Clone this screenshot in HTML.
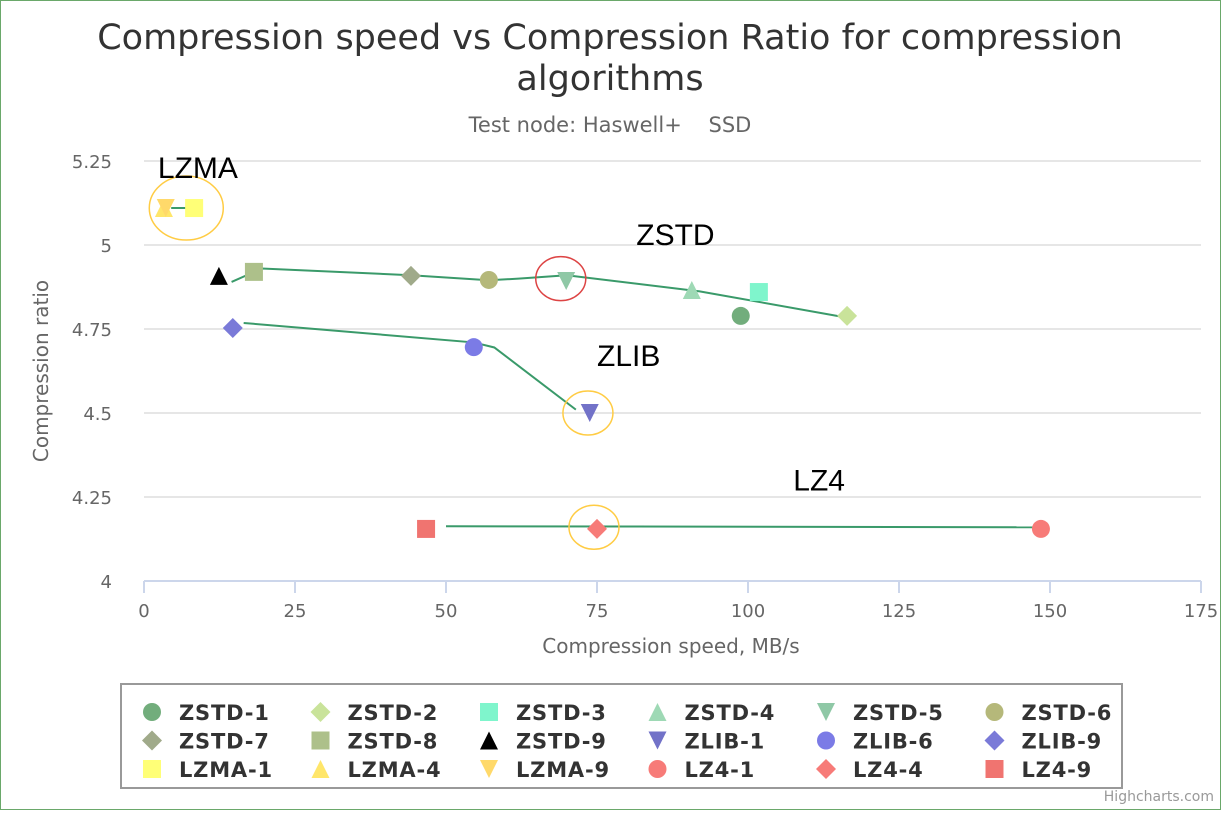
<!DOCTYPE html>
<html><head><meta charset="utf-8"><style>
body{margin:0;background:#fff;font-family:"DejaVu Sans",sans-serif}
#wrap{position:relative;width:1219px;height:808px;border:1px solid #6aa86a}
</style></head><body>
<div id="wrap">
<svg id="chart" width="1219" height="808" xmlns="http://www.w3.org/2000/svg" font-family="DejaVu Sans, sans-serif">
<text x="609" y="48" text-anchor="middle" font-size="35" fill="#333">Compression speed vs Compression Ratio for compression</text>
<text x="609" y="89" text-anchor="middle" font-size="35" fill="#333">algorithms</text>
<text x="609" y="131" text-anchor="middle" font-size="21" fill="#666">Test node: Haswell+ &#160;&#160;&#160;SSD</text>
<g id="grid"></g><g id="axes"></g><g id="lines"></g><g id="marks"></g><g id="notes"></g>
<text x="670" y="652" text-anchor="middle" font-size="20" fill="#666">Compression speed, MB/s</text>
<text transform="translate(47,370) rotate(-90)" text-anchor="middle" font-size="20" fill="#666">Compression ratio</text>
<rect x="120" y="683" width="1001" height="104" fill="none" stroke="#999" stroke-width="2"/>
<g id="legend"></g>
<text x="1213" y="800" text-anchor="end" font-size="14" fill="#999">Highcharts.com</text>
</svg></div>
<script>
const names=["ZSTD-1","ZSTD-2","ZSTD-3","ZSTD-4","ZSTD-5","ZSTD-6","ZSTD-7","ZSTD-8","ZSTD-9","ZLIB-1","ZLIB-6","ZLIB-9","LZMA-1","LZMA-4","LZMA-9","LZ4-1","LZ4-4","LZ4-9"];
const speeds=[98.8,116.4,101.8,90.7,69.9,57.1,44.2,18.2,12.4,73.8,54.6,14.7,8.3,3.3,3.6,148.5,75,46.7];
const ratios=[4.789,4.789,4.86,4.866,4.893,4.896,4.908,4.92,4.908,4.5,4.696,4.753,5.11,5.11,5.11,4.155,4.155,4.155];
const colors=["#72ad7c","#c9e39a","#7ff5cc","#9ed9b5","#8fc8a6","#b5b87a","#a0aa8a","#adc08a","#000000","#7272c8","#7b7be6","#7a7ad8","#ffff77","#ffe66a","#ffd96a","#f77b78","#f77b78","#f07470"];
const shapes=["circle","diamond","square","triangle","tri-down","circle","diamond","square","triangle","tri-down","circle","diamond","square","triangle","tri-down","circle","diamond","square"];
const xTicks=[0,25,50,75,100,125,150,175];
const yTicks=[4,4.25,4.5,4.75,5,5.25];
const yTickLabels=["4","4.25","4.5","4.75","5","5.25"];
const groupLabels=["LZMA","ZSTD","ZLIB","LZ4"];
const groupLabelX=[2.3,81.5,75,107.5];
const groupLabelY=[5.2,5.0,4.64,4.27];
const lineZSTD=[[14.5,4.89],[19.5,4.93],[44.2,4.91],[57.1,4.895],[62,4.9],[70,4.91],[92,4.862],[116,4.785]];
const lineZLIB=[[16.5,4.768],[54.6,4.71],[58,4.695],[71.5,4.51]];
const lineLZMA=[[4.5,5.11],[9.5,5.11]];
const lineLZ4=[[50,4.163],[148.5,4.16]];
const circleX=[7,69,73.5,74.5];
const circleY=[5.11,4.9,4.5,4.16];
const circleColors=["#ffcc44","#dd4444","#ffcc44","#ffcc44"];
const X=v=>143+v*(1200-143)/175;
const Y=v=>580-(v-4)*336;
const NS="http://www.w3.org/2000/svg";
function mk(tag,attrs,parent){const e=document.createElementNS(NS,tag);for(const k in attrs)e.setAttribute(k,attrs[k]);parent.appendChild(e);return e;}
const grid=document.getElementById('grid'),axes=document.getElementById('axes');
yTicks.forEach((t,i)=>{
 if(i>0){const l=mk('line',{x1:143,x2:1200,y1:Y(t),y2:Y(t),stroke:'#e6e6e6','stroke-width':2},grid);
 
 }
 const tx=mk('text',{x:111,y:Y(t)+7,'text-anchor':'end','font-size':18,fill:'#666'},axes);tx.textContent=yTickLabels[i];
 
 
});
const ax=mk('line',{x1:143,x2:1200,y1:580,y2:580,stroke:'#ccd6eb','stroke-width':2},axes);


xTicks.forEach(t=>{
 const tk=mk('line',{x1:X(t),x2:X(t),y1:580,y2:592,stroke:'#ccd6eb','stroke-width':2},axes);
 
 
 const tx=mk('text',{x:X(t),y:616,'text-anchor':'middle','font-size':18,fill:'#666'},axes);tx.textContent=t;
 
 
});
const lines=document.getElementById('lines');
[lineZSTD,lineZLIB,lineLZMA,lineLZ4].forEach(pts=>{
 const p=mk('polyline',{points:pts.map(q=>X(q[0])+','+Y(q[1])).join(' '),fill:'none',stroke:'#3a9a6a','stroke-width':2},lines);
 
 
});
function shape(s,cx,cy,r,c,parent){
 if(s==='circle')return mk('circle',{cx,cy,r,fill:c},parent);
 if(s==='square')return mk('rect',{x:cx-r,y:cy-r,width:2*r,height:2*r,fill:c},parent);
 let pts;
 if(s==='diamond')pts=[[cx,cy-r-1],[cx+r+1,cy],[cx,cy+r+1],[cx-r-1,cy]];
 else if(s==='triangle')pts=[[cx,cy-r],[cx+r,cy+r],[cx-r,cy+r]];
 else pts=[[cx-r,cy-r],[cx+r,cy-r],[cx,cy+r]];
 return mk('polygon',{points:pts.map(p=>p.join(',')).join(' '),fill:c},parent);
}
const marks=document.getElementById('marks');
names.forEach((n,i)=>{
 const e=shape(shapes[i],X(speeds[i]),Y(ratios[i]),9,colors[i],marks);
 
 
});
const notes=document.getElementById('notes');
circleX.forEach((cx,i)=>{
 const e=mk('ellipse',{cx:X(cx),cy:Y(circleY[i]),rx:i===0?37:25,ry:i===0?32:22,fill:'none',stroke:circleColors[i],'stroke-width':1.5},notes);
 
 
});
groupLabels.forEach((g,i)=>{
 const t=mk('text',{x:X(groupLabelX[i]),y:Y(groupLabelY[i]),'font-size':30,fill:'#000','font-family':'Liberation Sans, sans-serif'},notes);t.textContent=g;
 
 
});
const legend=document.getElementById('legend');
names.forEach((n,i)=>{
 const col=i%6,row=Math.floor(i/6);
 const x=151+col*168.5,y=711+row*28.5;
 const g=mk('g',{},legend);
 
 
 shape(shapes[i],x,y,9,colors[i],g);
 const t=mk('text',{x:x+27,y:y+8,'font-size':21,'font-weight':'bold','letter-spacing':0.8,fill:'#333'},g);t.textContent=n;
});
</script>
</body></html>
